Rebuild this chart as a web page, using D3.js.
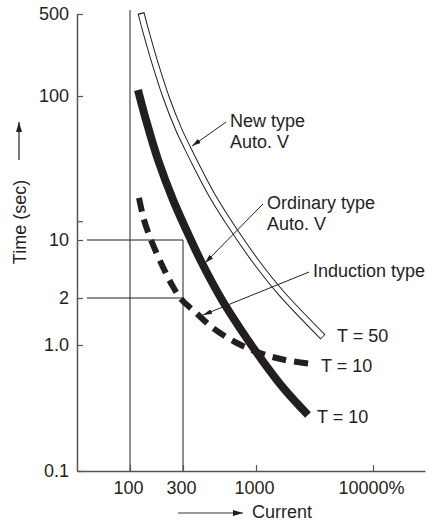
<!DOCTYPE html>
<html>
<head>
<meta charset="utf-8">
<script src="https://cdn.jsdelivr.net/npm/d3@7"></script>
<style>
body { margin: 0; background: #fff; }
svg text { font-family: "Liberation Sans", Arial, sans-serif; font-size: 18px; fill: #231f20; }
</style>
</head>
<body>
<svg id="chart" width="427" height="522"></svg>
<script>
// current (%) vs time (sec); the axes are schematic
var newType = [[125.6, 510], [137.9, 365], [167.9, 191], [210.9, 98.4], [276, 58], [321, 44.2],
    [366, 34.2], [492, 19.9], [696, 11.7], [1020, 5.28], [1636, 2.30], [3738, 1.125]];
var ordinary = [[118, 112.5], [139.3, 68.1], [179, 35.9], [244, 19.0], [342, 10], [410, 5.28],
    [571, 1.94], [781, 1.25], [1125, 0.76], [1769, 0.44], [2783, 0.278]];
var induction = [[120.5, 19.6], [133.7, 13.8], [154.6, 10], [194, 5.0], [239, 2.87], [290, 1.96],
    [366, 1.63], [484, 1.30], [707, 1.045], [1082, 0.864], [1770, 0.76], [3071, 0.707]];

var xTicks = [100, 300, 1000, 10000];
var xTickLabels = ['100', '300', '1000', '10000%'];
var yTicks = [0.1, 1, 2, 10, 13.5, 100, 500];
var yTickLabels = ['0.1', '1.0', '2', '10', '', '100', '500'];

var endLabels = ['T = 50', 'T = 10', 'T = 10'];
var notes = [
    {lines: ['New type', 'Auto. V'], from: [610, 65.9], to: [348, 44.9]},
    {lines: ['Ordinary type', 'Auto. V'], from: [1148, 17.8], to: [431, 5.28]},
    {lines: ['Induction type'], from: [2838, 4.11], to: [417, 1.556]}
];
// reference lines: 100% full height, 300% up to 10 s, 10 s and 2 s across to 300%
var vLines = [[100, 0.1, 540], [300, 0.1, 10]];
var hLines = [[10, 41, 300], [2, 41, 300]];

var ink = '#231f20';
var svg = d3.select('#chart');

// piecewise log scales, the drawing is not to a true log grid
var x = d3.scaleLog()
    .domain([100 / 3, 100, 300, 1000, 10000, 27800])
    .range([77, 130, 183, 256, 373, 425]);
var y = d3.scaleLog()
    .domain([0.1, 1, 2, 10, 100, 500])
    .range([471, 345, 298, 240, 96, 14]);

var defs = svg.append('defs');
defs.append('marker')
    .attr('id', 'head')
    .attr('markerUnits', 'userSpaceOnUse')
    .attr('markerWidth', 9).attr('markerHeight', 5)
    .attr('refX', 9).attr('refY', 2.5)
    .attr('orient', 'auto')
    .append('path').attr('d', 'M0,0L9,2.5L0,5z').attr('fill', ink);
defs.append('marker')
    .attr('id', 'bighead')
    .attr('markerUnits', 'userSpaceOnUse')
    .attr('markerWidth', 10).attr('markerHeight', 6)
    .attr('refX', 10).attr('refY', 3)
    .attr('orient', 'auto')
    .append('path').attr('d', 'M0,0L10,3L0,6z').attr('fill', ink);

// reference lines
svg.selectAll('.vline').data(vLines).enter().append('line')
    .attr('x1', d => x(d[0])).attr('x2', d => x(d[0]))
    .attr('y1', d => y(d[1])).attr('y2', d => y(d[2]))
    .attr('stroke', (d, i) => i === 0 ? '#6d6d6d' : ink)
    .attr('stroke-width', (d, i) => i === 0 ? 1.5 : 1);
svg.selectAll('.hline').data(hLines).enter().append('line')
    .attr('x1', d => x(d[1])).attr('x2', d => x(d[2]))
    .attr('y1', d => y(d[0])).attr('y2', d => y(d[0]))
    .attr('stroke', ink).attr('stroke-width', 1);

// axes
var xAxis = svg.append('g')
    .attr('transform', 'translate(0,' + y(0.1) + ')')
    .call(d3.axisBottom(x).tickValues(xTicks)
        .tickFormat((d, i) => xTickLabels[i])
        .tickSizeInner(-6).tickSizeOuter(0).tickPadding(10));
var yAxis = svg.append('g')
    .attr('transform', 'translate(' + x(100 / 3) + ',0)')
    .call(d3.axisLeft(y).tickValues(yTicks)
        .tickFormat((d, i) => yTickLabels[i])
        .tickSizeInner(-6).tickSizeOuter(0).tickPadding(8));
[xAxis, yAxis].forEach(function(a) {
    a.attr('font-size', null).attr('font-family', null);
    a.select('.domain').attr('stroke', '#555').attr('stroke-width', 1.5);
    a.selectAll('.tick line').attr('stroke', '#555').attr('stroke-width', 1.2);
    a.selectAll('.tick text').attr('fill', ink);
});
xAxis.selectAll('.tick text').attr('dx', -2);

// curves
var line = d3.line()
    .x(d => x(d[0]))
    .y(d => y(d[1]))
    .curve(d3.curveCatmullRom.alpha(0.5));

svg.append('path').attr('d', line(newType))
    .attr('fill', 'none').attr('stroke', ink).attr('stroke-width', 7);
var inner = svg.append('path').attr('d', line(newType))
    .attr('fill', 'none').attr('stroke', '#fff').attr('stroke-width', 5);
var len = inner.node().getTotalLength();
inner.attr('stroke-dasharray', '0,1.2,' + (len - 2.4) + ',' + len);

svg.append('path').attr('d', line(induction))
    .attr('fill', 'none').attr('stroke', ink).attr('stroke-width', 6)
    .attr('stroke-dasharray', '14,8');

svg.append('path').attr('d', line(ordinary))
    .attr('fill', 'none').attr('stroke', ink).attr('stroke-width', 8);

// T labels at the curve ends
var ends = [newType, induction, ordinary];
var endOffsets = [[14, 5], [8, 8], [9, 8]];
ends.forEach(function(s, i) {
    var p = s[s.length - 1];
    svg.append('text')
        .attr('x', x(p[0]) + endOffsets[i][0])
        .attr('y', y(p[1]) + endOffsets[i][1])
        .text(endLabels[i]);
});

// leaders and their notes
notes.forEach(function(n) {
    svg.append('line')
        .attr('x1', x(n.from[0])).attr('y1', y(n.from[1]))
        .attr('x2', x(n.to[0])).attr('y2', y(n.to[1]))
        .attr('stroke', ink).attr('stroke-width', 1)
        .attr('marker-end', 'url(#head)');
    var t = svg.append('text')
        .attr('x', x(n.from[0]) + 4)
        .attr('y', y(n.from[1]) + 5);
    n.lines.forEach(function(s, j) {
        t.append('tspan').attr('x', x(n.from[0]) + 4).attr('dy', j ? 21 : 0).text(s);
    });
});

// axis titles
svg.append('text')
    .attr('transform', 'translate(20,222) rotate(-90)')
    .attr('text-anchor', 'middle')
    .attr('dominant-baseline', 'central')
    .text('Time (sec)');
svg.append('line')
    .attr('x1', 19).attr('y1', 160).attr('x2', 19).attr('y2', 122)
    .attr('stroke', ink).attr('stroke-width', 1.2)
    .attr('marker-end', 'url(#bighead)');

svg.append('line')
    .attr('x1', 178).attr('y1', 513).attr('x2', 243).attr('y2', 513)
    .attr('stroke', '#777').attr('stroke-width', 1.5)
    .attr('marker-end', 'url(#bighead)');
svg.append('text')
    .attr('x', 252).attr('y', 518)
    .text('Current');
</script>
</body>
</html>
